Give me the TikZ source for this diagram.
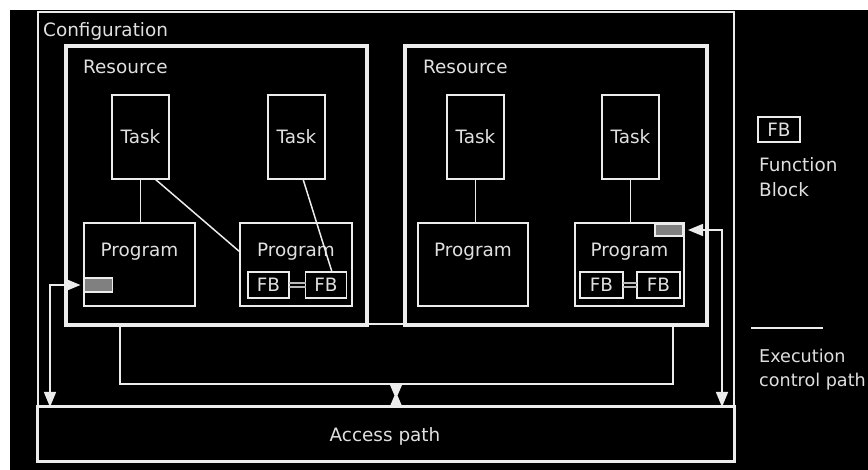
\documentclass[tikz,border=0pt]{standalone}
\usepackage{fontspec}
\setmainfont{DejaVu Sans}
\usetikzlibrary{arrows.meta,calc}
\definecolor{fg}{RGB}{236,236,236}
\definecolor{txt}{RGB}{224,224,224}
\definecolor{grayfill}{RGB}{128,128,128}
\definecolor{conn}{RGB}{185,185,185}
\begin{document}
\begin{tikzpicture}[x=1pt,y=-1pt,
  every node/.style={font=\fontsize{18.4}{22}\selectfont},
  box/.style={draw=fg,line width=1.5pt,inner sep=0pt,outer sep=0pt,text=txt},
  resbox/.style={draw=fg,line width=4pt,inner sep=0pt,outer sep=0pt},
  taskbox/.style={box,minimum width=57pt,minimum height=84pt},
  progbox/.style={box,minimum height=83pt},
  fbbox/.style={box,minimum width=41pt,minimum height=26pt},
  graybox/.style={draw=fg,line width=1.2pt,fill=grayfill,inner sep=0pt,outer sep=0pt,minimum width=28pt},
  lbl/.style={text=txt,inner sep=0pt,anchor=base west},
  clbl/.style={text=txt,inner sep=0pt,anchor=base},
  link/.style={draw=fg,line width=1.5pt},
  arr/.style={draw=fg,line width=1.5pt,{Triangle[length=15pt,width=12pt]}-{Triangle[length=15pt,width=12pt]}},
  fbconn/.style={draw=conn,line width=2pt}
]
\useasboundingbox (0,0) rectangle (868,470);
\fill[white] (0,0) rectangle (868,470);
\fill[black] (10,10) rectangle (868,470);

% configuration and access path
\node[draw=fg,line width=2.5pt,inner sep=0pt,outer sep=0pt,minimum width=696pt,minimum height=449pt] (config) at (386,236.5) {};
\node[lbl] (configtxt) at (43,37) {Configuration};
\node[draw=fg,line width=3pt,inner sep=0pt,outer sep=0pt,minimum width=697pt,minimum height=54pt] (access) at (385.5,434) {};
\node[clbl] (accesstxt) at (385,442) {Access path};

% bus (execution control path between resources)
\node[draw=fg,line width=1.5pt,inner sep=0pt,outer sep=0pt,minimum width=553pt,minimum height=60pt] (bus) at (396.5,354) {};

% resources
\node[resbox,minimum width=301pt,minimum height=279pt] (res1) at (216.5,185.5) {};
\node[resbox,minimum width=302pt,minimum height=279pt] (res2) at (556,185.5) {};
\node[lbl] (res1txt) at (83,74) {Resource};
\node[lbl] (res2txt) at (423,74) {Resource};

% tasks
\node[taskbox] (task1) at (140.5,137) {Task};
\node[taskbox] (task2) at (296.5,137) {Task};
\node[taskbox] (task3) at (475.5,137) {Task};
\node[taskbox] (task4) at (630.5,137) {Task};

% programs
\node[progbox,minimum width=111pt] (prog1) at (139.5,264.5) {};
\node[progbox,minimum width=112pt] (prog2) at (296,264.5) {};
\node[progbox,minimum width=110pt] (prog3) at (473,264.5) {};
\node[progbox,minimum width=109pt] (prog4) at (629.5,264.5) {};
\node[clbl] (prog1txt) at (139.5,257) {Program};
\node[clbl] (prog2txt) at (296,257) {Program};
\node[clbl] (prog3txt) at (473,257) {Program};
\node[clbl] (prog4txt) at (629.5,257) {Program};

% function blocks
\node[fbbox] (fb1) at (268.5,285) {FB};
\node[fbbox] (fb2) at (326,285) {FB};
\node[fbbox,minimum width=43pt] (fb3) at (601.5,285) {FB};
\node[fbbox,minimum width=43pt] (fb4) at (658.5,285) {FB};
\draw[fbconn] ($(fb1.east)+(0,-2.2)$) -- ($(fb2.west)+(0,-2.2)$);
\draw[fbconn] ($(fb1.east)+(0,2.2)$) -- ($(fb2.west)+(0,2.2)$);
\draw[fbconn] ($(fb3.east)+(0,-2.2)$) -- ($(fb4.west)+(0,-2.2)$);
\draw[fbconn] ($(fb3.east)+(0,2.2)$) -- ($(fb4.west)+(0,2.2)$);

% gray access points
\node[graybox,minimum height=14pt] (g1) at (98.5,285) {};
\node[graybox,minimum height=12pt] (g2) at (669,230) {};

% task -> program links
\draw[link] (task1.south) -- (task1.south |- prog1.north);
\draw[link] ($(task1.south)+(14.5,0)$) -- ($(prog2.west)+(0,-12.5)$);
\draw[link] ($(task2.south)+(6.5,0)$) -- ($(fb2.north)+(6,0)$);
\draw[link] (task3.south) -- (task3.south |- prog3.north);
\draw[link] (task4.south) -- (task4.south |- prog4.north);

% access arrows
\coordinate (a1) at (50,407);
\coordinate (a2) at (722,407);
\draw[arr,shorten <=4pt] (g1.west) -| (a1);
\draw[arr,shorten <=5pt] (g2.east) -| (a2);

% bus to access path connector
\fill[fg] (390,385) -- (402,385) -- (397.5,395.5) -- (402,406) -- (390,406) -- (394.5,395.5) -- cycle;

% legend
\node[box,minimum width=42pt,minimum height=25pt] (legfb) at (779,129.5) {FB};
\node[lbl] (legfbtxt1) at (759,172) {Function};
\node[lbl] (legfbtxt2) at (759,197) {Block};
\coordinate (l1) at (751,328);
\coordinate (l2) at (823,328);
\draw[draw=fg,line width=2.5pt] (l1) -- (l2);
\node[lbl,font=\fontsize{17.6}{21}\selectfont] (legexec1) at (759,363) {Execution};
\node[lbl,font=\fontsize{17.6}{21}\selectfont] (legexec2) at (759,387) {control path};
\end{tikzpicture}
\end{document}
